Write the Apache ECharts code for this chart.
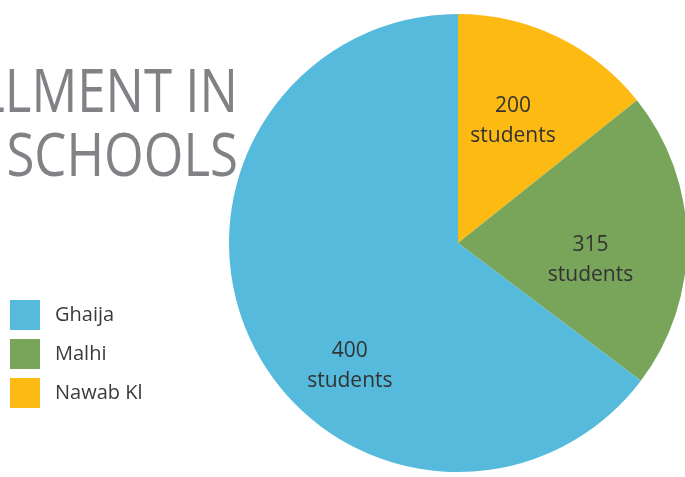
<!DOCTYPE html>
<html>
<head>
<meta charset="utf-8">
<script src="https://cdn.jsdelivr.net/npm/echarts@6/dist/echarts.min.js"></script>
<style>
html,body{margin:0;padding:0;background:#ffffff;}
#chart{width:685px;height:477px;}
</style>
</head>
<body>
<div id="chart"></div>
<script>
// Schools (clockwise from 12 o'clock, as drawn)
const schools = ['Nawab Kl', 'Malhi', 'Ghaija'];
// Student counts printed on the slices
const studentCounts = [200, 315, 400];
// Slice sizes as drawn in the picture (degrees of the circle)
const sliceDegrees = [51.4, 75.6, 233];
// Legend order as shown
const legendOrder = ['Ghaija', 'Malhi', 'Nawab Kl'];
const titleLines = ['ENROLLMENT IN', 'SCHOOLS'];

const colors = ['#FDBA12', '#79A55B', '#55BADC'];
const labelNudge = [[4, -16], [15, 19], [-3, 71]];

const chart = echarts.init(document.getElementById('chart'), null, {renderer: 'canvas'});
chart.setOption({
  backgroundColor: '#ffffff',
  animation: false,
  legend: {
    data: legendOrder,
    orient: 'vertical',
    left: 5,
    top: 295,
    itemWidth: 30,
    itemHeight: 30,
    itemGap: 9,
    icon: 'rect',
    textStyle: {
      fontFamily: 'Open Sans',
      fontSize: 20,
      color: '#3a3a3a',
      padding: [0, 0, 0, 10]
    }
  },
  graphic: [
    {
      type: 'text', z: 0,
      x: 238, y: 65, scaleX: 0.85,
      style: {text: titleLines[0], align: 'right', verticalAlign: 'top',
        font: '60px "Open Sans"', fill: '#808285'}
    },
    {
      type: 'text', z: 0,
      x: 238, y: 129, scaleX: 0.85,
      style: {text: titleLines[1], align: 'right', verticalAlign: 'top',
        font: '60px "Open Sans"', fill: '#808285'}
    }
  ],
  series: [{
    type: 'pie',
    z: 5,
    center: [458, 243],
    radius: [0, 229],
    startAngle: 90,
    clockwise: true,
    silent: true,
    emphasis: {disabled: true},
    label: {
      show: true,
      position: 'inside',
      fontFamily: 'Open Sans',
      fontSize: 21,
      lineHeight: 30,
      color: '#333333',
      formatter: p => studentCounts[p.dataIndex] + '\nstudents'
    },
    labelLine: {show: false},
    labelLayout: p => ({dx: labelNudge[p.dataIndex][0], dy: labelNudge[p.dataIndex][1]}),
    data: schools.map((n, i) => ({name: n, value: sliceDegrees[i], itemStyle: {color: colors[i]}}))
  }]
});
</script>
</body>
</html>
